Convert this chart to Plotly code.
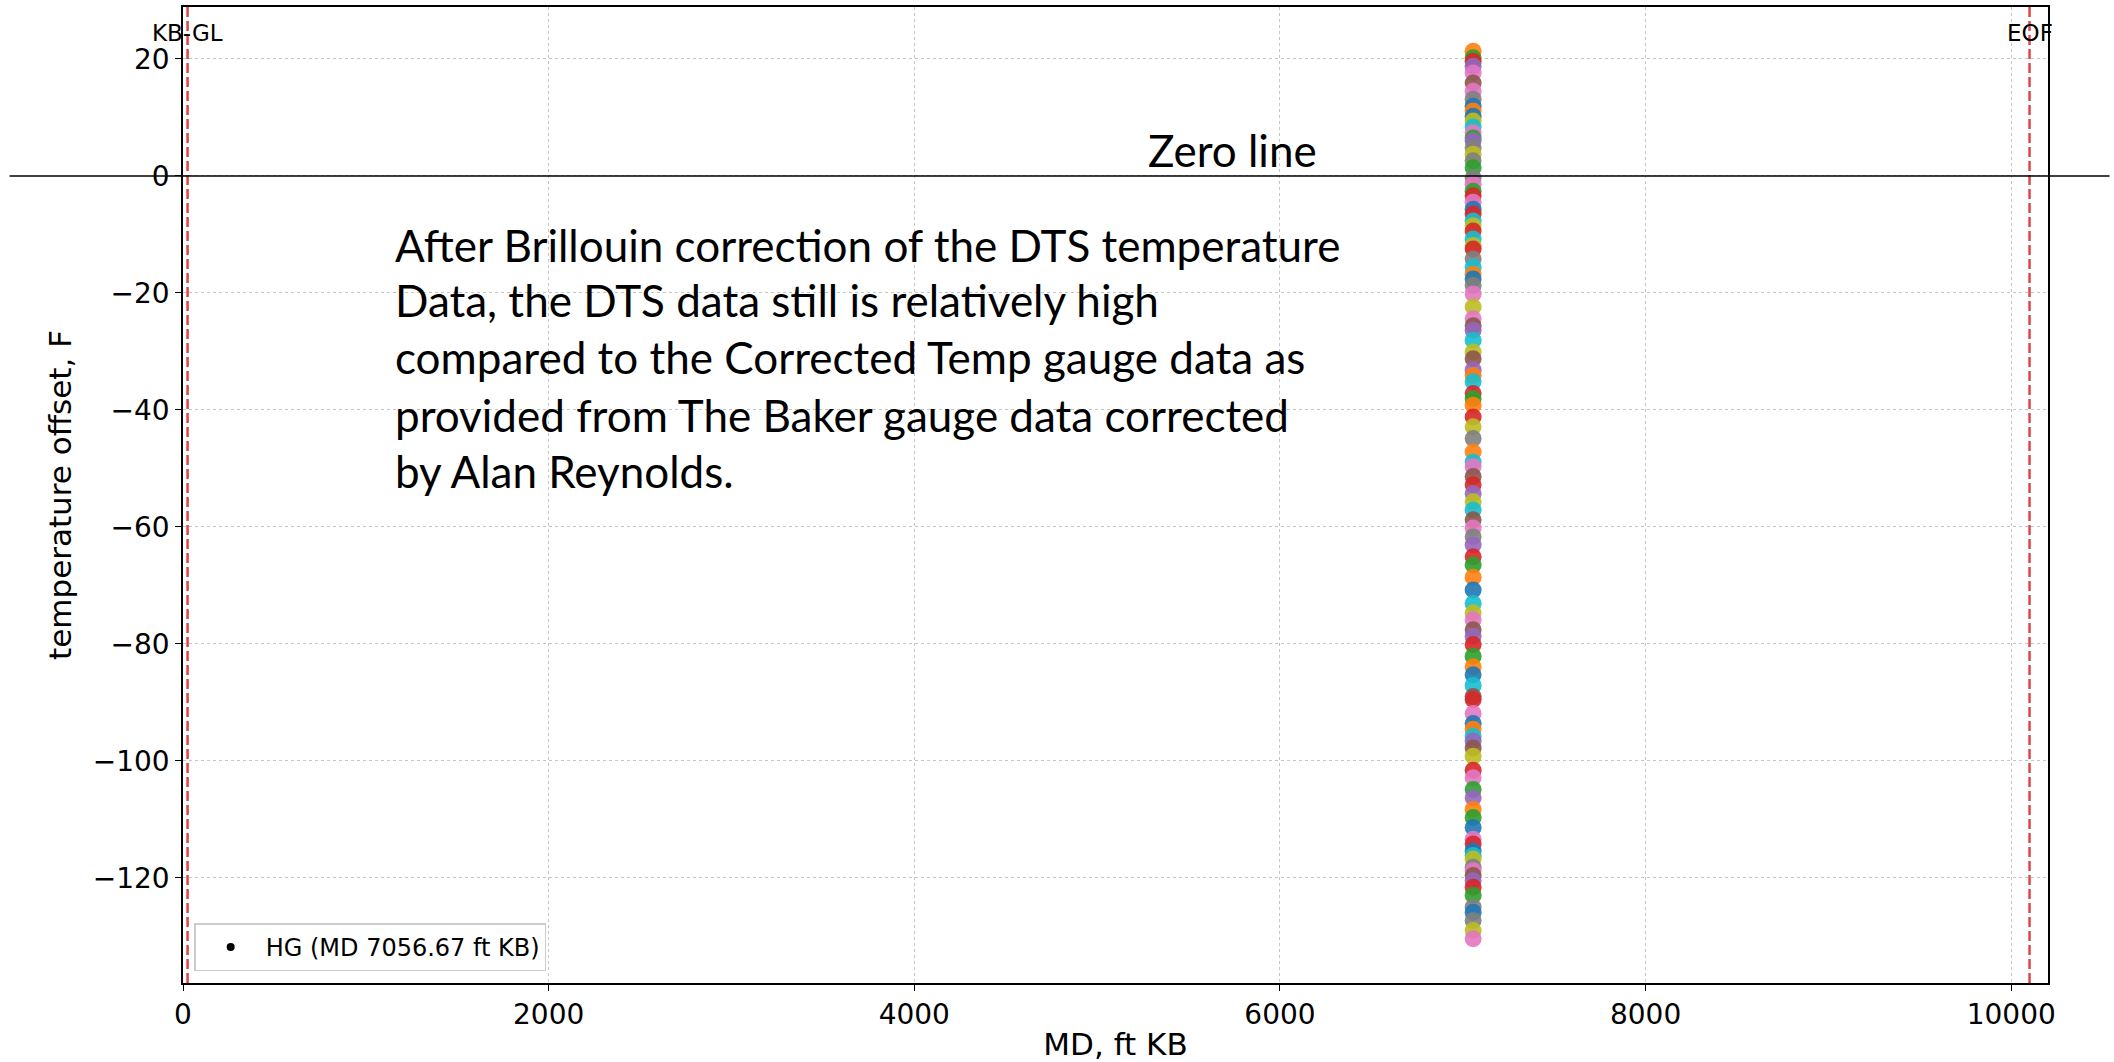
import plotly.graph_objects as go

# ---------------- data ----------------
hg_md = 7056.67            # gauge depth, ft KB
kb_gl_md = 25              # KB-GL marker depth
eof_md = 10100             # end of fibre depth

offsets = [21.3, 20.2, 19.6, 18.75, 17.6, 15.9, 14.5, 13.1, 11.9, 11.1,
           10.2, 9.4, 8.35, 7.4, 6.5, 6.0, 4.8, 3.7, 2.6, 1.4,
           -0.3, -1.4, -2.6, -3.4, -4.5, -5.7, -6.5, -7.7, -8.5, -9.4,
           -10.8, -11.9, -12.5, -14.2, -15.6, -16.8, -17.6, -18.75, -20.2, -22.4,
           -24.4, -25.6, -26.4, -28.1, -30.1, -31.25, -33.2, -34.1, -35.2, -37.2,
           -38.1, -39.2, -41.2, -42.9, -44.9, -47.2, -48.9, -49.7, -51.4, -52.8,
           -54.3, -55.7, -57.1, -58.8, -60.2, -61.7, -63.1, -65.1, -66.5, -68.6,
           -70.8, -73.1, -74.7, -75.9, -77.6, -78.7, -80.1, -82.1, -83.9, -85.3,
           -87.1, -89.0, -89.5, -91.9, -93.6, -94.6, -95.8, -96.6, -97.8, -99.2,
           -101.6, -102.9, -104.9, -106.3, -108.3, -109.7, -111.4, -113.4, -114.2, -115.4,
           -116.2, -116.8, -118.2, -118.8, -119.6, -120.5, -121.6, -123.0, -125.0, -125.9,
           -127.3, -129.0, -130.4]

x_ticks = [0, 2000, 4000, 6000, 8000, 10000]
y_ticks = [-120, -100, -80, -60, -40, -20, 0, 20]

legend_label = "HG (MD 7056.67 ft KB)"
x_title = "MD, ft KB"
y_title = "temperature offset, F"
kb_label = "KB-GL"
eof_label = "EOF"
zero_label = "Zero line"
note_lines = [
    "After Brillouin correction of the DTS temperature",
    "Data, the DTS data still is relatively high",
    "compared to the Corrected Temp gauge data as",
    "provided from The Baker gauge data corrected",
    "by Alan Reynolds.",
]

# ---------------- styles ----------------
tab10 = {"blue": "#1f77b4", "orange": "#ff7f0e", "green": "#2ca02c", "red": "#d62728",
         "purple": "#9467bd", "brown": "#8c564b", "pink": "#e377c2", "gray": "#7f7f7f",
         "olive": "#bcbd22", "cyan": "#17becf"}
point_color_names = [
    "orange", "green", "red", "purple", "pink", "brown", "pink", "gray", "blue", "orange",
    "blue", "olive", "cyan", "pink", "green", "purple", "gray", "olive", "gray", "green",
    "gray", "pink", "green", "red", "pink", "blue", "red", "cyan", "olive", "red",
    "cyan", "olive", "red", "gray", "cyan", "orange", "blue", "gray", "pink", "olive",
    "pink", "brown", "purple", "cyan", "olive", "brown", "purple", "orange", "cyan", "red",
    "green", "orange", "red", "olive", "gray", "orange", "cyan", "pink", "brown", "red",
    "purple", "olive", "cyan", "brown", "pink", "gray", "purple", "red", "green", "orange",
    "blue", "cyan", "olive", "pink", "brown", "purple", "red", "green", "orange", "blue",
    "cyan", "brown", "red", "pink", "blue", "orange", "cyan", "purple", "brown", "olive",
    "red", "pink", "green", "purple", "orange", "green", "blue", "pink", "red", "blue",
    "cyan", "olive", "gray", "pink", "brown", "purple", "red", "green", "gray", "blue",
    "gray", "olive", "pink"]
point_colors = [tab10[c] for c in point_color_names]

mpl_font = "DejaVu Sans"
note_font = "Lato, Open Sans, sans-serif"

ymin, ymax = min(offsets), max(offsets)
pad = 0.05 * (ymax - ymin)
y_range = [ymin - pad, ymax + pad]
x_range = [0, eof_md * 1.01]

fig = go.Figure()

fig.add_trace(go.Scatter(
    x=[hg_md] * len(offsets), y=offsets, mode="markers",
    marker=dict(size=17, color=point_colors, opacity=0.9, line=dict(width=0)),
    showlegend=False, hoverinfo="skip"))

fig.add_trace(go.Scatter(
    x=[None], y=[None], mode="markers", name=legend_label,
    marker=dict(size=8, color="black"), showlegend=True))

# vertical dashed reference lines
for xv in (kb_gl_md, eof_md):
    fig.add_shape(type="line", xref="x", yref="paper", x0=xv, x1=xv, y0=0, y1=1,
                  line=dict(color="rgba(214,39,40,0.85)", width=2.5, dash="10px,4px"))

# zero line across the full width
fig.add_shape(type="line", xref="paper", yref="y", x0=-0.093, x1=1.033, y0=0, y1=0,
              line=dict(color="black", width=1.5))

label_y = ymax + 3.2
fig.add_annotation(x=kb_gl_md, y=label_y, text=kb_label, showarrow=False,
                   xanchor="center", yanchor="middle",
                   font=dict(family=mpl_font, size=23, color="black"))
fig.add_annotation(x=eof_md, y=label_y, text=eof_label, showarrow=False,
                   xanchor="center", yanchor="middle",
                   font=dict(family=mpl_font, size=23, color="black"))

fig.add_annotation(x=5270, y=4.4, text=zero_label, showarrow=False,
                   xanchor="left", yanchor="middle",
                   font=dict(family=note_font, size=44, color="black"))

note_y = [-11.8, -21.2, -30.9, -40.8, -50.4]
for txt, yy in zip(note_lines, note_y):
    fig.add_annotation(x=1150, y=yy, text=txt, showarrow=False,
                       xanchor="left", yanchor="middle",
                       font=dict(family=note_font, size=44, color="black"))

axis_common = dict(showline=True, linecolor="black", linewidth=1.5, mirror=True,
                   ticks="outside", ticklen=6, tickwidth=1.2, tickcolor="black",
                   showgrid=True, gridcolor="#c4c4c4", griddash="dot", gridwidth=1,
                   zeroline=False, tickfont=dict(family=mpl_font, size=28, color="black"))

fig.update_xaxes(range=x_range, tickvals=x_ticks, ticktext=[str(v) for v in x_ticks],
                 title=dict(text=x_title, font=dict(family=mpl_font, size=31, color="black"),
                            standoff=10),
                 **axis_common)
fig.update_yaxes(range=y_range, tickvals=y_ticks,
                 title=dict(text=y_title, font=dict(family=mpl_font, size=31, color="black"),
                            standoff=12),
                 **axis_common)

fig.update_layout(
    width=2114, height=1062,
    margin=dict(l=183, r=66, t=7, b=79, autoexpand=False),
    paper_bgcolor="white", plot_bgcolor="white",
    legend=dict(x=0.006, y=0.012, xanchor="left", yanchor="bottom", itemwidth=60,
                bgcolor="rgba(255,255,255,0.85)", bordercolor="#cccccc", borderwidth=1.5,
                font=dict(family=mpl_font, size=24, color="black")),
)

fig.write_html("out.html")
